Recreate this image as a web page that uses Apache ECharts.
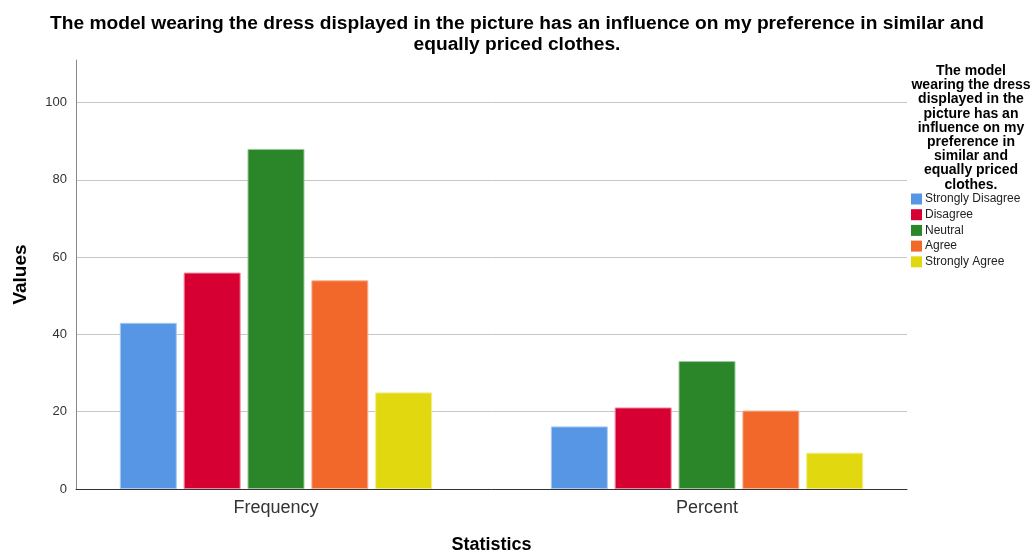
<!DOCTYPE html>
<html>
<head>
<meta charset="utf-8">
<script src="https://cdn.jsdelivr.net/npm/echarts@6/dist/echarts.min.js"></script>
<style>
  html, body { margin: 0; padding: 0; background: #fff; }
  #chart { width: 1036px; height: 552px; }
</style>
</head>
<body>
<div id="chart"></div>
<script>
// statistics shown on the x axis (placed at 0 and 1)
var statistics = ['Frequency', 'Percent'];
var answers = ['Strongly Disagree', 'Disagree', 'Neutral', 'Agree', 'Strongly Agree'];
var frequency = [43, 56, 88, 54, 25];
var percent = [16.2, 21.1, 33.1, 20.3, 9.4];
var yTicks = [0, 20, 40, 60, 80, 100];
var colors = ['#5796e4', '#d70033', '#2a8629', '#f2682b', '#e2d810'];
var borders = ['#a9cbf3', '#f08aa2', '#9cc99c', '#f9b394', '#f1ec8a'];

var legendTitle = 'The model\nwearing the dress\ndisplayed in the\npicture has an\ninfluence on my\npreference in\nsimilar and\nequally priced\nclothes.';

var series = answers.map(function(name, i) {
  return {
    name: name,
    type: 'bar',
    barWidth: 57,
    barGap: '12%',
    itemStyle: { color: colors[i], borderColor: borders[i], borderWidth: 1 },
    data: [[0, frequency[i]], [1, percent[i]]]
  };
});

echarts.init(document.getElementById('chart')).setOption({
  animation: false,
  textStyle: { fontFamily: 'Liberation Sans, Arial, sans-serif' },
  title: [{
    text: 'The model wearing the dress displayed in the picture has an influence on my preference in similar and\nequally priced clothes.',
    left: 512,
    top: 8,
    textAlign: 'center',
    textStyle: { fontSize: 19.2, fontWeight: 'bold', color: '#000', lineHeight: 21 }
  }, {
    text: legendTitle,
    left: 966,
    top: 59,
    textAlign: 'center',
    textStyle: { fontSize: 14, fontWeight: 'bold', color: '#000', lineHeight: 14.2 }
  }],
  legend: {
    orient: 'vertical',
    left: 906,
    top: 188,
    icon: 'rect',
    itemWidth: 11,
    itemHeight: 11,
    itemGap: 3.7,
    itemStyle: { borderWidth: 0 },
    textStyle: { fontSize: 12, color: '#222', lineHeight: 12, padding: [0, 0, 0, -2] },
    data: answers
  },
  grid: { left: 76, right: 129, top: 60, bottom: 63, outerBoundsMode: 'none' },
  xAxis: {
    type: 'value',
    min: -0.464,
    max: 1.464,
    name: 'Statistics',
    nameLocation: 'middle',
    nameGap: 47,
    nameTextStyle: { fontSize: 18, fontWeight: 'bold', color: '#000' },
    axisLine: { show: true, onZero: false, lineStyle: { color: '#333', width: 1 } },
    axisTick: { show: false },
    splitLine: { show: false },
    axisLabel: {
      customValues: [0, 1],
      fontSize: 18,
      color: '#333',
      margin: 10,
      formatter: function(v) { return statistics[Math.round(v)]; }
    }
  },
  yAxis: {
    type: 'value',
    min: 0,
    max: 111,
    interval: 20,
    name: 'Values',
    nameLocation: 'middle',
    nameGap: 46,
    nameTextStyle: { fontSize: 19, fontWeight: 'bold', color: '#000' },
    axisLine: { show: true, onZero: false, lineStyle: { color: '#888', width: 1 } },
    axisTick: { show: false },
    axisLabel: {
      customValues: yTicks,
      fontSize: 13,
      color: '#333',
      margin: 9
    },
    splitLine: {
      show: true,
      lineStyle: { color: ['#c6c6c6', '#c6c6c6', '#c6c6c6', '#c6c6c6', '#c6c6c6', '#c6c6c6', 'rgba(0,0,0,0)'], width: 1 }
    }
  },
  series: series
});
</script>
</body>
</html>
